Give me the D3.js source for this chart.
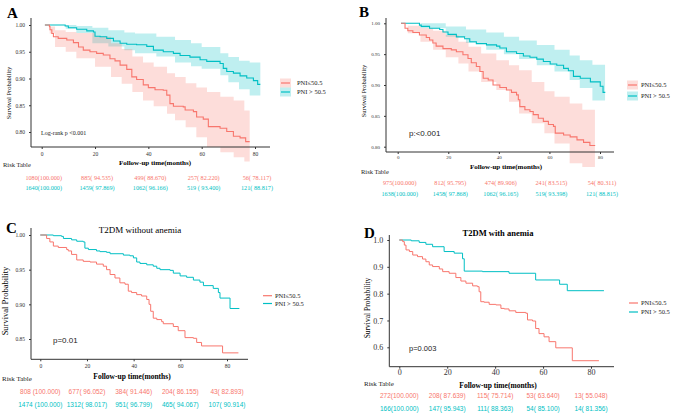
<!DOCTYPE html>
<html lang="en">
<head>
<meta charset="utf-8">
<script src="https://d3js.org/d3.v7.min.js"></script>
<style>
  body { margin: 0; background: #fff; }
  svg { display: block; }
</style>
</head>
<body>
<div id="fig"></div>
<script>
// ---------- values ----------
const xTicks = [0, 20, 40, 60, 80];
const groups = ["PNI\u226450.5", "PNI > 50.5"];

// A
const timeRedA = [1.2, 2.9, 3.1, 3.8, 4.4, 6.2, 9.4, 11.9, 13.8, 15.6, 18.1, 20.6, 23.1, 25.6, 27.5, 29.4, 31.9, 33.8, 35.6, 38.1, 40, 42.5, 45.6, 46.9, 48.1, 49.4, 53.1, 53.8, 56.9, 58.1, 60.6, 62.5, 66.9, 69.4, 71.9, 74.4, 76.5, 78];
const survRedA = [1.0, 0.997, 0.991, 0.984, 0.978, 0.975, 0.972, 0.967, 0.959, 0.953, 0.950, 0.947, 0.944, 0.937, 0.933, 0.925, 0.917, 0.903, 0.898, 0.888, 0.883, 0.879, 0.878, 0.869, 0.853, 0.848, 0.847, 0.841, 0.838, 0.828, 0.824, 0.810, 0.807, 0.801, 0.792, 0.789, 0.782, 0.782];
const timeCyanA = [1.2, 8.8, 10, 13.1, 16.9, 19.4, 20, 21.9, 24.4, 26.9, 29.4, 31.9, 35.6, 39.4, 41.9, 45.6, 49.4, 51.9, 55.6, 59.4, 61.9, 66.9, 68.1, 69.4, 71.9, 74.4, 76.9, 79.4, 81, 82];
const survCyanA = [1.0, 0.998, 0.995, 0.992, 0.989, 0.987, 0.979, 0.978, 0.975, 0.970, 0.966, 0.964, 0.963, 0.960, 0.953, 0.950, 0.947, 0.943, 0.940, 0.935, 0.932, 0.928, 0.919, 0.913, 0.910, 0.905, 0.901, 0.896, 0.889, 0.889];
// [month, lower, upper]
const bandRedA = [[1, 1.0, 1.0], [3, 0.984, 0.997], [5, 0.959, 0.990], [9, 0.950, 0.987], [13, 0.938, 0.985], [20, 0.922, 0.978], [26, 0.903, 0.966], [30, 0.890, 0.955], [34, 0.875, 0.941], [38, 0.859, 0.930], [42, 0.848, 0.922], [47, 0.834, 0.910], [50, 0.822, 0.903], [54, 0.809, 0.891], [58, 0.790, 0.883], [62, 0.772, 0.875], [67, 0.762, 0.866], [72, 0.753, 0.859], [76, 0.745, 0.840], [78, 0.741, 0.825]];
const bandCyanA = [[1, 1.0, 1.0], [9, 0.993, 1.0], [13, 0.985, 0.998], [19, 0.966, 0.995], [25, 0.960, 0.990], [31, 0.953, 0.986], [35, 0.947, 0.984], [43, 0.941, 0.978], [50, 0.930, 0.972], [56, 0.923, 0.966], [60, 0.918, 0.959], [67, 0.906, 0.947], [70, 0.893, 0.940], [74, 0.880, 0.933], [78, 0.868, 0.930], [82, 0.853, 0.928]];
const riskRedA = ["1080(100.000)", "885( 94.535)", "499( 88.670)", "257( 82.220)", "56( 78.117)"];
const riskCyanA = ["1640(100.000)", "1459( 97.869)", "1062( 96.166)", "519 ( 93.400)", "121( 88.817)"];

// B
const timeRedB = [1.3, 2.9, 4.0, 6.0, 8.6, 11.3, 12.6, 13.9, 15.2, 17.9, 21.2, 23.2, 25.8, 27.8, 29.1, 31.1, 32.5, 33.8, 35.8, 37.7, 40.4, 43.0, 45.0, 47.0, 47.7, 48.3, 50.3, 52.3, 53.6, 55.6, 57.6, 59.6, 61.6, 62.3, 65.6, 68.2, 70.9, 73.5, 76, 78.1];
const survRedB = [1.0, 0.992, 0.988, 0.985, 0.981, 0.977, 0.973, 0.968, 0.963, 0.959, 0.957, 0.954, 0.949, 0.943, 0.936, 0.930, 0.922, 0.911, 0.908, 0.900, 0.896, 0.892, 0.888, 0.884, 0.876, 0.865, 0.860, 0.857, 0.852, 0.846, 0.841, 0.836, 0.833, 0.822, 0.819, 0.816, 0.811, 0.807, 0.802, 0.802];
const timeCyanB = [1.3, 8.6, 9.3, 12.6, 16.6, 17.9, 19.9, 23.2, 26.5, 28.5, 31.1, 35.1, 39.1, 40.4, 43.0, 47.0, 49.7, 52.3, 55.0, 57.6, 60.3, 62.9, 65.6, 67.5, 69.5, 72.2, 76.2, 80.1, 81.2, 82.1];
const survCyanB = [1.0, 0.997, 0.995, 0.992, 0.990, 0.986, 0.982, 0.978, 0.975, 0.970, 0.967, 0.965, 0.963, 0.960, 0.954, 0.951, 0.947, 0.945, 0.942, 0.938, 0.934, 0.932, 0.927, 0.923, 0.914, 0.911, 0.905, 0.898, 0.888, 0.888];
const bandRedB = [[1, 1.0, 1.0], [4, 0.984, 0.996], [9, 0.970, 0.992], [14, 0.957, 0.988], [19, 0.945, 0.981], [24, 0.935, 0.970], [28, 0.922, 0.962], [33, 0.905, 0.951], [39, 0.892, 0.940], [44, 0.873, 0.932], [48, 0.854, 0.924], [53, 0.838, 0.905], [58, 0.822, 0.890], [62, 0.805, 0.881], [68, 0.773, 0.870], [73, 0.767, 0.860], [78, 0.762, 0.846]];
const bandCyanB = [[1, 1.0, 1.0], [9, 0.992, 1.0], [19, 0.978, 0.995], [27, 0.968, 0.990], [35, 0.957, 0.985], [42, 0.950, 0.978], [48, 0.942, 0.972], [55, 0.932, 0.965], [62, 0.922, 0.957], [68, 0.908, 0.948], [72, 0.895, 0.940], [77, 0.875, 0.933], [82, 0.854, 0.927]];
const riskRedB = ["975(100.000)", "812( 95.795)", "474( 89.906)", "241( 83.515)", "54( 80.311)"];
const riskCyanB = ["1638(100.000)", "1458( 97.868)", "1062( 96.165)", "519( 93.398)", "121( 88.815)"];

// C
const timeRedC = [0, 2.7, 4.1, 5.6, 7.7, 11.3, 12, 13.4, 15.6, 18.4, 21.3, 24.1, 27, 28.4, 29.9, 32, 34.1, 36.3, 37.7, 39.1, 41.3, 43.4, 45.6, 46.6, 47.3, 48.4, 49.9, 52, 52.7, 57, 59.1, 62, 65.6, 67, 69.1, 78.1, 84.9];
const survRedC = [1.0, 0.995, 0.990, 0.984, 0.982, 0.979, 0.977, 0.972, 0.964, 0.962, 0.961, 0.958, 0.955, 0.950, 0.943, 0.938, 0.931, 0.929, 0.919, 0.917, 0.914, 0.912, 0.907, 0.900, 0.890, 0.880, 0.878, 0.875, 0.872, 0.868, 0.862, 0.852, 0.851, 0.845, 0.840, 0.830, 0.830];
const timeCyanC = [0, 5.6, 9.1, 9.9, 13.4, 15.6, 18.4, 19.1, 20.6, 24.1, 25.6, 28.4, 29.9, 35.6, 38.4, 39.9, 41.3, 42.7, 45.6, 48.4, 49.9, 51.3, 55.6, 57, 59.9, 62.7, 65.6, 68.4, 69.9, 74.1, 76.3, 77, 81.3, 85.3];
const survCyanC = [1.0, 0.999, 0.998, 0.995, 0.993, 0.991, 0.990, 0.981, 0.979, 0.977, 0.976, 0.975, 0.973, 0.971, 0.970, 0.967, 0.961, 0.959, 0.957, 0.955, 0.952, 0.950, 0.949, 0.945, 0.941, 0.939, 0.935, 0.932, 0.927, 0.923, 0.917, 0.909, 0.894, 0.894];
const riskRedC = ["808 (100.000)", "677( 96.052)", "384( 91.446)", "204( 86.155)", "43( 82.893)"];
const riskCyanC = ["1474 (100.000)", "1312( 98.017)", "951( 96.799)", "465( 94.067)", "107( 90.914)"];

// D
const timeRedD = [0, 1.4, 2.1, 2.8, 4.2, 5.6, 7.6, 9.7, 11.1, 12.5, 13.9, 16.7, 18.1, 20.8, 23.6, 25.7, 27.8, 30.6, 32.6, 33.3, 34, 35.4, 37.5, 40.3, 42.4, 43.8, 45.8, 48.6, 52.8, 53.5, 55.6, 56.9, 58.3, 60.4, 62.5, 65.3, 72.2, 83.3];
const survRedD = [1.0, 0.994, 0.981, 0.963, 0.957, 0.944, 0.938, 0.929, 0.919, 0.907, 0.901, 0.892, 0.882, 0.876, 0.860, 0.847, 0.839, 0.829, 0.826, 0.807, 0.770, 0.768, 0.760, 0.758, 0.745, 0.743, 0.736, 0.730, 0.727, 0.702, 0.698, 0.670, 0.651, 0.639, 0.621, 0.598, 0.550, 0.550];
const timeCyanD = [0, 5, 8.3, 11.1, 13.9, 18.7, 22.9, 26.4, 27.1, 34.7, 45.8, 56.9, 66.9, 70.1, 85.4];
const survCyanD = [1.0, 0.997, 0.991, 0.984, 0.975, 0.957, 0.951, 0.930, 0.884, 0.882, 0.876, 0.851, 0.835, 0.811, 0.811];
const riskRedD = ["272(100.000)", "208( 87.639)", "115( 75.714)", "53( 63.640)", "13( 55.048)"];
const riskCyanD = ["166(100.000)", "147( 95.943)", "111( 88.363)", "54( 85.100)", "14( 81.356)"];

const yTicksAB = [0.80, 0.85, 0.90, 0.95, 1.00];
const yTicksC = [0.85, 0.90, 0.95, 1.00];
const yTicksD = [0.6, 0.7, 0.8, 0.9, 1.0];

// ---------- drawing ----------
const red = "#F8766D", cyan = "#00BFC4";
const serif = "'Liberation Serif', 'Times New Roman', serif";
const sans = "'Liberation Sans', Arial, sans-serif";

const svg = d3.select("#fig").append("svg")
  .attr("width", 676).attr("height", 414);

const panels = [
  { tag: "A", tagX: 7, tagY: 13,
    x0: 41.7, x80: 255, yLo: 0.80, yHi: 1.00, yLoPx: 132, yHiPx: 25,
    axL: 31, axT: 18, axB: 147, axR: 270, yTicks: yTicksAB, yFmt: ".2f", tickFs: 5.5,
    xLabY: 154, yTitleX: 9, yTitleY: 93, yTitleFs: 6.5,
    xTitleX: 155, xTitleY: 163, xTitleFs: 7,
    riskX: 3, riskY: 165, riskFs: 6.5, rowRed: 177.5, rowCyan: 188.3, rowFs: 6.2, rowFont: serif, rowDx: 2,
    legX: 280, legY: [83, 92], legTextX: 297, legFs: 6.5, legBox: true,
    pText: "Log-rank p <0.001", pX: 41, pY: 133, pFs: 6, pFont: serif,
    timeRed: timeRedA, survRed: survRedA, timeCyan: timeCyanA, survCyan: survCyanA,
    bandRed: bandRedA, bandCyan: bandCyanA, riskRed: riskRedA, riskCyan: riskCyanA, lw: 1.1 },
  { tag: "B", tagX: 359, tagY: 12,
    x0: 397.7, x80: 600, yLo: 0.80, yHi: 1.00, yLoPx: 146.7, yHiPx: 23.3,
    axL: 386, axT: 18, axB: 152, axR: 614, yTicks: yTicksAB, yFmt: ".2f", tickFs: 5,
    xLabY: 157, yTitleX: 364, yTitleY: 91, yTitleFs: 6.5,
    xTitleX: 506, xTitleY: 167, xTitleFs: 7,
    riskX: 361, riskY: 172, riskFs: 6.5, rowRed: 182.7, rowCyan: 194.3, rowFs: 6.2, rowFont: serif, rowDx: 2,
    legX: 627, legY: [85, 96], legTextX: 641, legFs: 6.5, legBox: true,
    pText: "p:<0.001", pX: 409, pY: 133, pFs: 8, pFont: sans,
    timeRed: timeRedB, survRed: survRedB, timeCyan: timeCyanB, survCyan: survCyanB,
    bandRed: bandRedB, bandCyan: bandCyanB, riskRed: riskRedB, riskCyan: riskCyanB, lw: 1.1 },
  { tag: "C", tagX: 6, tagY: 228, title: "T2DM without anemia", titleX: 140, titleY: 230, titleFs: 9, titleW: "normal",
    x0: 40.3, x80: 227, yLo: 0.85, yHi: 1.00, yLoPx: 339, yHiPx: 235,
    axL: 31, axT: 228, axB: 359.3, axR: 248, yTicks: yTicksC, yFmt: ".2f", tickFs: 5.5,
    xLabY: 366, yTitleX: 5, yTitleY: 301, yTitleFs: 8.5,
    xTitleX: 132, xTitleY: 376, xTitleFs: 7.5,
    riskX: 2, riskY: 379, riskFs: 7, rowRed: 391.7, rowCyan: 405, rowFs: 6.5, rowFont: sans, rowDx: 0,
    legX: 262, legY: [295.7, 303.5], legTextX: 275, legFs: 6.5, legBox: false,
    pText: "p=0.01", pX: 53, pY: 340, pFs: 8, pFont: sans,
    timeRed: timeRedC, survRed: survRedC, timeCyan: timeCyanC, survCyan: survCyanC,
    riskRed: riskRedC, riskCyan: riskCyanC, lw: 1 },
  { tag: "D", tagX: 364, tagY: 233, title: "T2DM with anemia", titleX: 498, titleY: 233, titleFs: 8.5, titleW: "bold",
    x0: 399.3, x80: 591, yLo: 0.6, yHi: 1.0, yLoPx: 347.3, yHiPx: 240,
    axL: 389.3, axT: 235, axB: 366.7, axR: 614, yTicks: yTicksD, yFmt: ".1f", tickFs: 8,
    xLabY: 372.7, yTitleX: 367, yTitleY: 308, yTitleFs: 7.5,
    xTitleX: 498, xTitleY: 385, xTitleFs: 7.5,
    riskX: 364, riskY: 384, riskFs: 7, rowRed: 395.7, rowCyan: 409, rowFs: 6.5, rowFont: sans, rowDx: 0,
    legX: 628, legY: [303, 312], legTextX: 641, legFs: 6.5, legBox: false,
    pText: "p=0.003", pX: 409, pY: 348, pFs: 7.5, pFont: sans,
    timeRed: timeRedD, survRed: survRedD, timeCyan: timeCyanD, survCyan: survCyanD,
    riskRed: riskRedD, riskCyan: riskCyanD, lw: 1 }
];

function drawPanel(p) {
  const g = svg.append("g");
  const x = d3.scaleLinear().domain([0, 80]).range([p.x0, p.x80]);
  const y = d3.scaleLinear().domain([p.yLo, p.yHi]).range([p.yLoPx, p.yHiPx]);

  const band = d3.area().curve(d3.curveStepAfter)
    .x(d => x(d[0])).y0(d => y(d[1])).y1(d => y(d[2]));
  const km = d3.line().curve(d3.curveStepAfter)
    .x(d => x(d[0])).y(d => y(d[1]));

  if (p.bandRed) {
    g.append("path").attr("d", band(p.bandCyan)).attr("fill", cyan).attr("fill-opacity", 0.25);
    g.append("path").attr("d", band(p.bandRed)).attr("fill", red).attr("fill-opacity", 0.25);
  }
  g.append("path").attr("d", km(d3.zip(p.timeCyan, p.survCyan)))
    .attr("fill", "none").attr("stroke", cyan).attr("stroke-width", p.lw);
  g.append("path").attr("d", km(d3.zip(p.timeRed, p.survRed)))
    .attr("fill", "none").attr("stroke", red).attr("stroke-width", p.lw);

  // axes
  const yAx = g.append("g").attr("transform", `translate(${p.axL},0)`)
    .call(d3.axisLeft(y).tickValues(p.yTicks).tickSize(2).tickPadding(4).tickFormat(d3.format(p.yFmt)));
  const xAx = g.append("g").attr("transform", `translate(0,${p.axB})`)
    .call(d3.axisBottom(x).tickValues(xTicks).tickSize(2).tickPadding(3));
  [yAx, xAx].forEach(a => {
    a.select(".domain").remove();
    a.selectAll("line").attr("stroke", "#333");
    a.selectAll("text").attr("font-family", serif).attr("font-size", p.tickFs).attr("fill", "#333");
  });
  xAx.selectAll("text").attr("y", p.xLabY - p.axB).attr("dy", "0.35em");
  g.append("path")
    .attr("d", `M${p.axL},${p.axT}V${p.axB}H${p.axR}`)
    .attr("fill", "none").attr("stroke", "#333").attr("stroke-width", 1);

  // labels
  g.append("text").attr("x", p.tagX).attr("y", p.tagY).text(p.tag)
    .attr("font-family", serif).attr("font-weight", "bold").attr("font-size", 15).attr("dy", "0.35em");
  if (p.title) {
    g.append("text").attr("x", p.titleX).attr("y", p.titleY).text(p.title)
      .attr("text-anchor", "middle").attr("dy", "0.35em")
      .attr("font-family", serif).attr("font-size", p.titleFs).attr("font-weight", p.titleW);
  }
  g.append("text").attr("transform", `translate(${p.yTitleX},${p.yTitleY}) rotate(-90)`)
    .text("Survival Probability").attr("text-anchor", "middle").attr("dy", "0.35em")
    .attr("font-family", serif).attr("font-size", p.yTitleFs);
  g.append("text").attr("x", p.xTitleX).attr("y", p.xTitleY).text("Follow-up time(months)")
    .attr("text-anchor", "middle").attr("dy", "0.35em")
    .attr("font-family", serif).attr("font-weight", "bold").attr("font-size", p.xTitleFs);
  g.append("text").attr("x", p.pX).attr("y", p.pY).text(p.pText)
    .attr("dy", "0.35em").attr("font-family", p.pFont).attr("font-size", p.pFs).attr("fill", "#222");

  // risk table
  g.append("text").attr("x", p.riskX).attr("y", p.riskY).text("Risk Table")
    .attr("dy", "0.35em").attr("font-family", serif).attr("font-size", p.riskFs).attr("fill", "#222");
  [[p.riskRed, p.rowRed, red], [p.riskCyan, p.rowCyan, cyan]].forEach(([row, ry, col]) => {
    g.selectAll(null).data(row).join("text")
      .attr("x", (d, i) => x(xTicks[i]) + p.rowDx).attr("y", ry).text(d => d)
      .attr("text-anchor", "middle").attr("dy", "0.35em")
      .attr("font-family", p.rowFont).attr("font-size", p.rowFs).attr("fill", col);
  });

  // legend
  [red, cyan].forEach((col, i) => {
    const ly = p.legY[i];
    if (p.legBox) {
      g.append("rect").attr("x", p.legX).attr("y", ly - 4.5).attr("width", 11).attr("height", 9)
        .attr("fill", col).attr("fill-opacity", 0.25);
    }
    g.append("line").attr("x1", p.legX + 1).attr("x2", p.legX + 10).attr("y1", ly).attr("y2", ly)
      .attr("stroke", col).attr("stroke-width", 1.2);
    g.append("text").attr("x", p.legTextX).attr("y", ly).text(groups[i])
      .attr("dy", "0.35em").attr("font-family", serif).attr("font-size", p.legFs).attr("fill", "#222");
  });
}

panels.forEach(drawPanel);
</script>
</body>
</html>
